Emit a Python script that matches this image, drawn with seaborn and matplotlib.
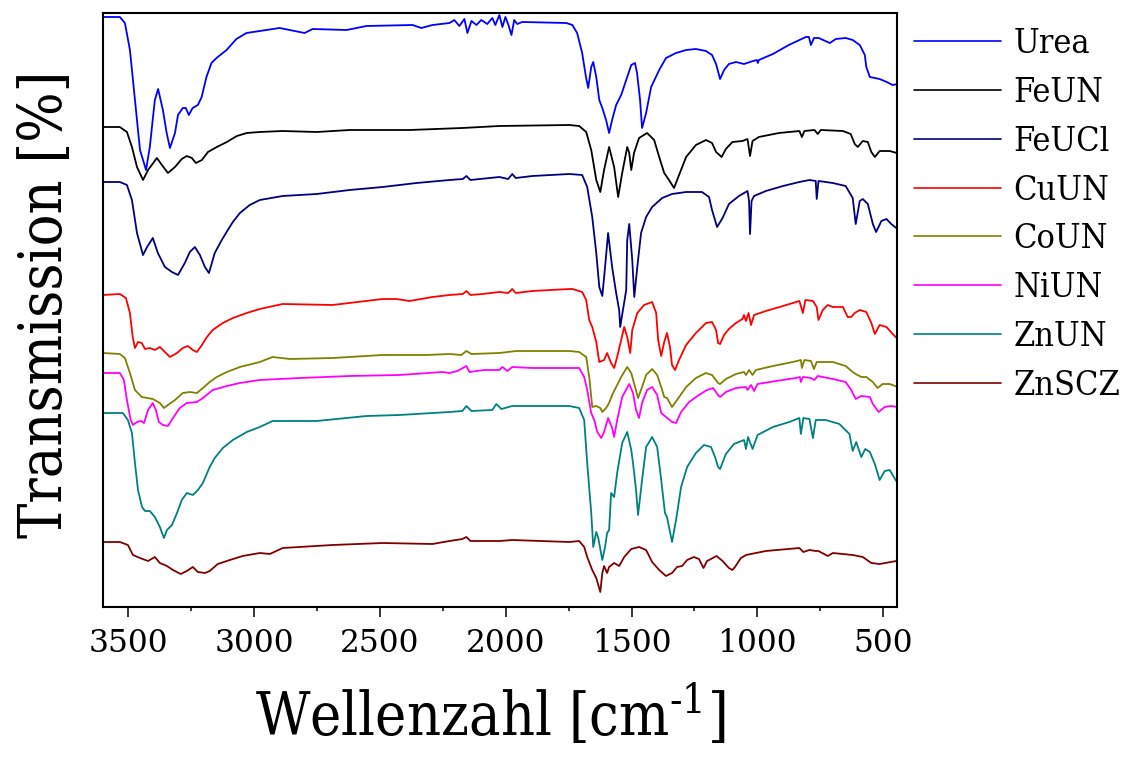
import os
import pandas as pd
import matplotlib
matplotlib.use("Agg")
import matplotlib.pyplot as plt
from matplotlib import font_manager as fm
from matplotlib.ticker import MultipleLocator
from matplotlib.lines import Line2D
import seaborn as sns

# ---------------- data (wavenumber [cm^-1], transmission [arb. offset units]) ----------------
labels = ["Urea", "FeUN", "FeUCl", "CuUN", "CoUN", "NiUN", "ZnUN", "ZnSCZ"]
colors = ["#0000FF", "#000000", "#000080", "#FF0000", "#808000", "#FF00FF", "#008080", "#800000"]

urea = [(3600,590),(3533,590),(3513,584),(3493,557),(3473,507),(3453,457),(3429,437),(3414,460),(3394,507),(3381,518),
        (3362,497),(3347,474),(3334,459),(3314,474),(3302,492),(3283,499),(3271,499),(3259,492),(3244,499),(3223,502),
        (3208,510),(3189,530),(3169,544),(3149,549),(3109,557),(3070,568),(3030,574),(2977,576),(2898,579),(2799,574),
        (2767,578),(2632,577),(2553,581),(2370,582),(2335,579),(2291,582),(2223,584),(2204,587),(2184,581),(2164,588),
        (2152,574),(2136,586),(2116,582),(2097,587),(2073,583),(2053,589),(2041,582),(2025,592),(2013,580),(2001,590),
        (1989,582),(1977,572),(1966,587),(1954,583),(1934,585),(1759,584),(1735,582),(1716,574),(1696,554),(1681,530),
        (1672,519),(1660,540),(1652,545),(1640,530),(1628,507),(1616,499),(1601,487),(1589,474),(1577,487),(1561,502),
        (1541,512),(1521,527),(1501,542),(1486,544),(1478,534),(1466,507),(1458,479),(1442,494),(1422,520),(1390,537),
        (1363,549),(1323,554),(1283,557),(1244,558),(1204,556),(1180,552),(1164,543),(1148,528),(1132,537),(1113,543),
        (1085,545),(1053,543),(1017,546),(1002,547),(998,544),(994,547),(938,553),(875,562),(807,570),(795,570),
        (787,562),(775,569),(756,569),(712,564),(688,568),(649,569),(621,567),(593,562),(573,552),(567,540),
        (553,530),(514,528),(486,525),(462,522),(442,523)]

feun = [(3600,480),(3533,480),(3505,475),(3485,460),(3465,440),(3441,427),(3421,437),(3386,449),(3366,442),(3342,434),
        (3314,440),(3287,448),(3267,451),(3247,449),(3231,444),(3207,447),(3183,455),(3148,460),(3108,465),(3068,471),
        (3029,474),(2977,475),(2886,476),(2751,475),(2620,477),(2382,477),(2172,479),(2025,481),(1747,482),(1708,481),
        (1680,475),(1660,457),(1640,427),(1624,415),(1609,437),(1589,460),(1569,440),(1553,410),(1537,434),(1517,460),
        (1509,454),(1501,437),(1490,454),(1470,469),(1438,474),(1410,467),(1390,450),(1370,434),(1351,427),(1331,419),
        (1311,432),(1283,450),(1244,462),(1204,467),(1180,464),(1164,455),(1142,450),(1125,458),(1099,465),(1059,466),
        (1039,468),(1029,451),(1019,466),(994,470),(914,474),(833,476),(823,470),(813,476),(773,477),(760,473),
        (748,477),(660,476),(629,473),(613,463),(601,460),(581,466),(561,465),(547,455),(533,450),(514,456),
        (474,456),(446,454)]

feucl = [(3600,425),(3533,425),(3505,422),(3485,407),(3465,374),(3441,352),(3425,360),(3402,369),(3382,354),(3354,340),
         (3326,335),(3302,332),(3275,344),(3255,355),(3235,360),(3215,352),(3195,340),(3179,334),(3156,354),(3128,367),
         (3104,377),(3084,385),(3056,394),(3017,402),(2977,407),(2886,411),(2751,413),(2620,417),(2489,420),(2354,424),
         (2223,427),(2170,428),(2156,431),(2140,427),(2025,430),(1990,428),(1974,433),(1960,429),(1894,431),(1747,433),
         (1696,432),(1676,420),(1656,390),(1640,354),(1628,320),(1616,311),(1605,340),(1593,374),(1577,340),(1561,314),
         (1549,297),(1545,280),(1521,317),(1517,367),(1509,383),(1497,347),(1489,310),(1477,340),(1462,374),(1442,390),
         (1418,400),(1378,409),(1339,413),(1283,415),(1220,415),(1192,410),(1180,397),(1160,380),(1138,389),(1113,403),
         (1073,411),(1039,416),(1033,406),(1029,373),(1023,406),(1013,411),(966,416),(898,421),(833,425),(793,427),
         (768,426),(764,408),(757,426),(700,424),(649,421),(621,409),(609,383),(593,406),(581,408),(561,403),
         (541,383),(528,375),(507,386),(487,388),(468,383),(448,379)]

cuun = [(3600,312),(3533,313),(3509,309),(3493,294),(3482,270),(3473,259),(3461,265),(3446,264),(3433,258),(3414,259),
        (3394,257),(3374,260),(3354,255),(3334,250),(3306,254),(3283,259),(3263,261),(3243,257),(3227,255),(3207,262),
        (3187,270),(3164,277),(3124,284),(3084,289),(3029,294),(2977,298),(2886,303),(2688,302),(2489,308),(2434,308),
        (2382,306),(2291,310),(2223,312),(2170,313),(2156,316),(2140,312),(2092,313),(2025,315),(1990,314),(1974,318),
        (1960,314),(1894,316),(1747,318),(1735,318),(1696,315),(1680,307),(1668,287),(1656,280),(1640,265),(1628,245),
        (1609,247),(1597,254),(1581,244),(1569,239),(1557,250),(1541,267),(1529,280),(1517,270),(1505,254),(1497,277),
        (1477,294),(1450,302),(1418,305),(1402,294),(1394,267),(1382,251),(1370,265),(1359,274),(1347,260),(1339,242),
        (1327,237),(1311,247),(1283,262),(1244,274),(1204,284),(1180,285),(1164,277),(1156,264),(1148,263),(1132,272),
        (1113,278),(1085,284),(1059,288),(1053,292),(1045,286),(1035,294),(1025,282),(1013,292),(966,296),(898,301),
        (833,306),(819,294),(809,307),(779,306),(764,300),(757,287),(740,297),(720,302),(700,300),(660,300),
        (641,290),(627,290),(613,294),(593,297),(567,295),(547,284),(533,273),(514,282),(487,280),(462,273),(442,268)]

coun = [(3600,254),(3533,253),(3513,249),(3493,234),(3473,217),(3446,210),(3402,208),(3374,204),(3358,199),(3342,202),
        (3314,207),(3283,214),(3255,215),(3227,214),(3203,219),(3176,225),(3148,230),(3108,235),(3056,240),(2977,245),
        (2926,250),(2858,248),(2688,249),(2489,252),(2315,252),(2223,253),(2176,252),(2156,256),(2136,253),(2025,254),
        (1958,256),(1747,256),(1708,255),(1680,250),(1668,230),(1656,200),(1640,201),(1624,199),(1616,195),(1601,199),
        (1589,204),(1577,212),(1561,220),(1541,230),(1517,240),(1501,234),(1486,220),(1474,209),(1458,220),(1442,232),
        (1418,238),(1398,232),(1382,220),(1370,210),(1359,209),(1339,200),(1319,207),(1283,220),(1244,229),(1204,234),
        (1180,232),(1156,224),(1148,223),(1125,228),(1085,233),(1053,235),(1045,232),(1033,237),(1019,232),(1006,237),
        (938,241),(859,245),(827,247),(823,239),(813,247),(787,246),(775,238),(764,245),(700,245),(649,241),
        (621,235),(609,233),(587,230),(567,230),(541,225),(522,219),(502,223),(474,223),(442,220)]

niun = [(3600,234),(3533,234),(3517,227),(3505,207),(3490,187),(3481,182),(3465,185),(3449,186),(3437,184),(3421,197),
        (3402,204),(3390,197),(3378,185),(3362,182),(3342,181),(3322,189),(3295,199),(3267,204),(3227,205),(3203,209),
        (3164,217),(3108,221),(3056,224),(2977,227),(2818,229),(2620,231),(2422,232),(2251,235),(2223,234),(2192,236),
        (2156,241),(2144,235),(2085,237),(2025,237),(2013,240),(1993,236),(1974,240),(1894,239),(1747,239),(1708,239),
        (1688,230),(1676,217),(1660,194),(1648,187),(1636,175),(1620,169),(1609,175),(1593,189),(1577,179),(1569,170),
        (1557,187),(1537,210),(1509,223),(1494,214),(1482,197),(1470,189),(1458,204),(1438,217),(1418,220),(1398,212),
        (1382,194),(1363,190),(1339,185),(1323,184),(1303,195),(1271,205),(1232,212),(1200,217),(1176,219),(1156,212),
        (1148,210),(1125,215),(1085,219),(1045,220),(1039,217),(1025,222),(1013,216),(999,223),(926,226),(847,229),
        (831,230),(827,225),(819,230),(787,229),(773,227),(760,231),(700,228),(649,225),(627,217),(609,208),
        (587,211),(553,210),(541,203),(518,195),(494,200),(468,201),(442,200)]

znun = [(3600,194),(3521,194),(3501,187),(3485,174),(3473,144),(3461,117),(3445,100),(3433,96),(3414,96),(3394,90),
        (3374,80),(3358,69),(3346,77),(3326,82),(3306,94),(3287,107),(3267,114),(3243,112),(3223,117),(3203,124),
        (3176,140),(3156,149),(3124,159),(3084,167),(3029,175),(2977,180),(2926,186),(2751,186),(2553,191),(2422,192),
        (2223,195),(2172,196),(2156,201),(2136,196),(2053,197),(2037,203),(2017,198),(1974,201),(1747,201),(1708,199),
        (1688,187),(1676,144),(1660,94),(1652,60),(1640,75),(1632,69),(1616,47),(1605,60),(1597,74),(1589,77),
        (1581,114),(1569,110),(1557,134),(1537,164),(1517,175),(1501,157),(1494,144),(1482,117),(1474,92),(1458,127),
        (1442,160),(1418,170),(1398,160),(1382,127),(1367,94),(1359,90),(1339,65),(1323,87),(1303,120),(1279,140),
        (1244,154),(1212,162),(1184,160),(1168,150),(1156,140),(1148,138),(1125,153),(1093,163),(1053,167),(1045,158),
        (1037,170),(1019,158),(999,172),(938,180),(873,185),(833,189),(827,173),(817,189),(793,188),(779,169),
        (768,187),(728,187),(674,183),(634,173),(621,156),(607,165),(587,150),(571,158),(553,155),(533,143),
        (514,127),(494,136),(474,137),(448,126)]

znscz = [(3600,65),(3533,65),(3501,62),(3481,52),(3453,49),(3421,46),(3394,50),(3374,44),(3346,41),(3322,37),
         (3291,33),(3267,36),(3243,40),(3223,35),(3195,34),(3176,36),(3144,43),(3096,47),(3045,51),(2977,54),
         (2937,53),(2886,59),(2688,62),(2489,64),(2291,63),(2223,66),(2172,68),(2156,70),(2140,66),(2025,66),
         (1974,67),(1747,65),(1708,66),(1688,60),(1676,50),(1656,37),(1640,29),(1624,15),(1616,34),(1609,41),
         (1597,34),(1589,40),(1569,44),(1549,41),(1529,50),(1501,58),(1470,60),(1442,57),(1418,45),(1390,37),
         (1363,31),(1339,34),(1319,40),(1299,41),(1279,47),(1252,50),(1232,48),(1214,39),(1200,46),(1192,47),
         (1162,51),(1138,46),(1113,39),(1099,37),(1089,40),(1065,49),(1045,52),(966,56),(833,59),(817,55),
         (793,57),(768,56),(757,56),(720,51),(700,54),(621,52),(581,50),(547,44),(514,43),(448,46)]

series = [urea, feun, feucl, cuun, coun, niun, znun, znscz]
x_ticks = [3500, 3000, 2500, 2000, 1500, 1000, 500]

# ---------------- style ----------------
sns.set_theme(style="white")
plt.rcParams["font.family"] = ["DejaVu Serif"]
plt.rcParams["mathtext.fontset"] = "dejavuserif"
plt.rcParams["text.color"] = "black"
plt.rcParams["axes.labelcolor"] = "black"
plt.rcParams["xtick.color"] = "black"
plt.rcParams["ytick.color"] = "black"

cond_path = None
for f in fm.fontManager.ttflist:
    if os.path.basename(f.fname) == "DejaVuSerifCondensed.ttf":
        cond_path = f.fname
        break

if cond_path:
    def fp(size):
        return fm.FontProperties(fname=cond_path, size=size)
    lab_size, leg_size = 42.5, 24.5
else:
    def fp(size):
        return fm.FontProperties(family="DejaVu Serif", size=size)
    lab_size, leg_size = 38, 22

rows = []
for name, pts in zip(labels, series):
    for w, t in pts:
        rows.append((name, w, t))
df = pd.DataFrame(rows, columns=["Probe", "Wellenzahl", "Transmission"])

fig = plt.figure(figsize=(11.25, 7.62), dpi=100)
ax = fig.add_axes([0.09156, 0.20341, 0.70578, 0.77953])

sns.lineplot(data=df, x="Wellenzahl", y="Transmission", hue="Probe", hue_order=labels,
             palette=dict(zip(labels, colors)), estimator=None, sort=False,
             linewidth=1.3, legend=False, ax=ax)

ax.set_xlim(3600, 445)
ax.set_ylim(0, 594)
ax.set_yticks([])
ax.set_xticks(x_ticks)
ax.set_xticklabels([str(t) for t in x_ticks], color="black")
ax.xaxis.set_minor_locator(MultipleLocator(250))
ax.tick_params(axis="x", which="major", direction="out", length=7.2, width=1.1, pad=8,
               labelsize=22.5, bottom=True, top=False, colors="black")
ax.tick_params(axis="x", which="minor", direction="out", length=3.2, width=1.1, bottom=True, top=False)
for s in ax.spines.values():
    s.set_visible(True)
    s.set_linewidth(1.5)
    s.set_color("black")

ax.set_xlabel("Wellenzahl [cm$^{\\mathregular{\u20101}}$]", fontproperties=fp(lab_size), color="black")
ax.xaxis.set_label_coords(0.4875, -0.128)
ax.set_ylabel("Transmission [%]", fontproperties=fp(lab_size), color="black")
ax.yaxis.set_label_coords(-0.0365, 0.51)

handles = [Line2D([], [], color=c, lw=1.2) for c in colors]
fig.legend(handles, labels, loc="upper left", bbox_to_anchor=(914 / 1125, 1 - 28 / 762),
           frameon=False, prop=fp(leg_size), handlelength=2.57, handletextpad=0.35,
           labelspacing=0.495, borderpad=0, borderaxespad=0, labelcolor="black")

fig.savefig("out.png", dpi=100)
